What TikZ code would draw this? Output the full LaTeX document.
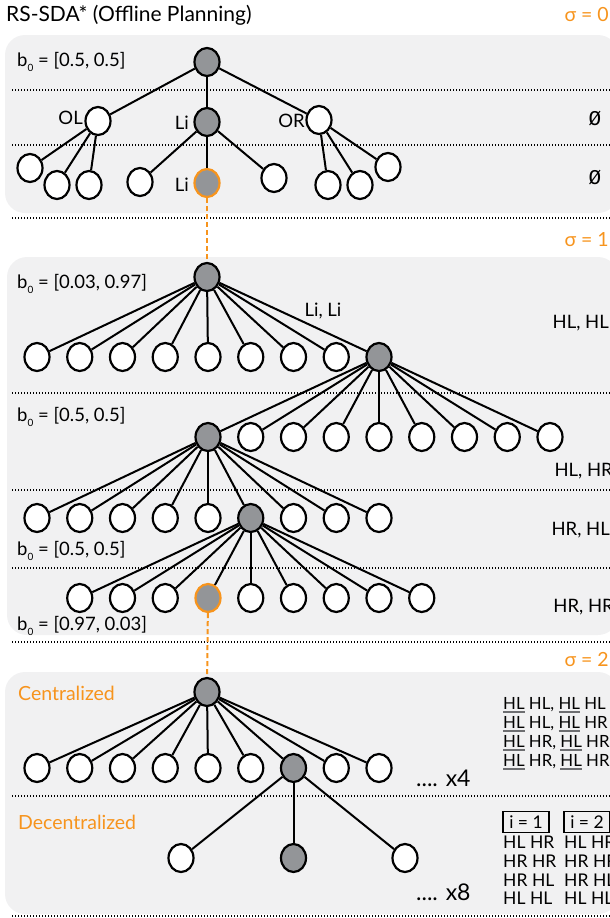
\documentclass[tikz,border=0pt]{standalone}
\usepackage{fontspec}
\setmainfont{Lato}
\newfontfamily\monof{Liberation Mono}
\usetikzlibrary{shapes.geometric}
\definecolor{boxgray}{HTML}{F1F1F2}
\definecolor{nodegray}{HTML}{939598}
\definecolor{orng}{HTML}{F7941D}
\definecolor{ulgray}{HTML}{6D6E71}
\newcommand\bz{b\raisebox{-4.5pt}{\fontsize{10}{10}\selectfont 0}}
\newcommand\uhl{\setbox0\hbox{HL}\rlap{\color{ulgray}\rule[-3.5pt]{\wd0}{1.8pt}}\box0}
\tikzset{
  nd/.style={ellipse, draw=black, line width=2.2pt, inner sep=0pt, minimum width=25pt, minimum height=28pt, fill=white},
  gn/.style={nd, fill=nodegray},
  on/.style={nd, fill=nodegray, draw=orng},
  edge/.style={line width=2pt},
  dotl/.style={line width=1.4pt, dash pattern=on 1.4pt off 1.6pt},
  odash/.style={draw=orng, line width=2pt, dash pattern=on 5pt off 3pt},
  txt/.style={font=\fontsize{18.5}{21}\selectfont, inner sep=0pt},
  stxt/.style={font=\fontsize{17.5}{20}\selectfont, inner sep=0pt},
  ctxt/.style={font=\fontsize{16.8}{20}\selectfont, inner sep=0pt},
  otxt/.style={font=\fontsize{19.5}{22}\selectfont, inner sep=0pt, text=orng},
  big/.style={font=\fontsize{23}{26}\selectfont, inner sep=0pt},
  ibox/.style={stxt, draw=black, line width=1.8pt, minimum width=46pt, minimum height=21pt, inner sep=1pt},
  mono/.style={font=\monof\fontsize{21}{24}\selectfont, inner sep=0pt}
}
\begin{document}
\begin{tikzpicture}[x=1pt, y=-1pt]
\useasboundingbox (0,0) rectangle (610,918);
% background boxes
\fill[boxgray, rounded corners=20pt] (5,35) rectangle (618,213);
\fill[boxgray, rounded corners=20pt] (7,257) rectangle (618,635);
\fill[boxgray, rounded corners=20pt] (5,672) rectangle (618,914);
% dotted separators
\foreach \yy in {90,145,218,393,490,568,642,796,916}
  \draw[dotl] (12,\yy) -- (612,\yy);

% titles
\node[font=\fontsize{21}{24}\selectfont, inner sep=0pt, anchor=west] (title) at (6,15) {RS-SDA* (Offline Planning)};
\node[otxt, anchor=east] (sig0) at (609,15) {σ = 0};
\node[otxt, anchor=east] (sig1) at (609,240) {σ = 1};
\node[otxt, anchor=east] (sig2) at (609,659) {σ = 2};

% ---------- section sigma = 0 ----------
\node[gn] (r0) at (207,62) {};
\node[nd] (a1) at (98,121) {};
\node[gn] (a2) at (207,122) {};
\node[nd] (a3) at (319,120) {};
\node[nd] (b1) at (30,168) {};
\node[nd] (b2) at (57,185) {};
\node[nd] (b3) at (89,185) {};
\node[nd] (b4) at (140,182) {};
\node[on] (b5) at (207,183) {};
\node[nd] (b6) at (274,178) {};
\node[nd] (b7) at (328,185) {};
\node[nd] (b8) at (360,185) {};
\node[nd] (b9) at (388,167) {};
\foreach \t in {a1,a2,a3} \draw[edge] (r0) -- (\t);
\foreach \t in {b1,b2,b3} \draw[edge] (a1) -- (\t);
\foreach \t in {b4,b5,b6} \draw[edge] (a2) -- (\t);
\foreach \t in {b7,b8,b9} \draw[edge] (a3) -- (\t);
\node[txt, anchor=west] (bA) at (17,62) {\bz\ = [0.5, 0.5]};
\node[txt, anchor=east] (lOL) at (83,118) {OL};
\node[txt, anchor=east] (lLi1) at (189,123) {Li};
\node[txt, anchor=east] (lOR) at (305,121) {OR};
\node[txt, anchor=east] (lLi2) at (189,185) {Li};
\node[mono] (e1) at (595,119) {Ø};
\node[mono] (e2) at (595,178) {Ø};

% ---------- section sigma = 1 ----------
\node[gn] (r1) at (207,277) {};
\foreach \i/\fc in {0/white,1/white,2/white,3/white,4/white,5/white,6/white,7/white,8/nodegray}
  \node[nd, fill=\fc] (s1n\i) at ({37+42.75*\i},357) {};
\foreach \i/\fc in {0/nodegray,1/white,2/white,3/white,4/white,5/white,6/white,7/white,8/white}
  \node[nd, fill=\fc] (s2n\i) at ({208+42.75*\i},437) {};
\foreach \i/\fc in {0/white,1/white,2/white,3/white,4/white,5/nodegray,6/white,7/white,8/white}
  \node[nd, fill=\fc] (s3n\i) at ({37+42.75*\i},518) {};
\foreach \i/\fc/\dc in {0/white/black,1/white/black,2/white/black,3/nodegray/orng,4/white/black,5/white/black,6/white/black,7/white/black,8/white/black}
  \node[nd, fill=\fc, draw=\dc] (s4n\i) at ({79.75+42.75*\i},598) {};
\foreach \i in {0,...,8} {
  \draw[edge] (r1) -- (s1n\i);
  \draw[edge] (s1n8) -- (s2n\i);
  \draw[edge] (s2n0) -- (s3n\i);
  \draw[edge] (s3n5) -- (s4n\i);
}
\node[txt, anchor=west] (bB) at (17,284) {\bz\ = [0.03, 0.97]};
\node[txt, anchor=west] (bC) at (17,417) {\bz\ = [0.5, 0.5]};
\node[txt, anchor=west] (bD) at (17,551) {\bz\ = [0.5, 0.5]};
\node[txt, anchor=west] (bE) at (17,626) {\bz\ = [0.97, 0.03]};
\node[txt] (lLiLi) at (323,311) {Li, Li};
\node[txt, anchor=east] (h1) at (609,323) {HL, HL};
\node[txt, anchor=east] (h2) at (613,471) {HL, HR};
\node[txt, anchor=east] (h3) at (610,530) {HR, HL};
\node[txt, anchor=east] (h4) at (614,607) {HR, HR};

% connectors between sections
\draw[odash] (b5) -- (r1);

% ---------- section sigma = 2 ----------
\node[gn] (r2) at (207,692) {};
\foreach \i/\fc in {0/white,1/white,2/white,3/white,4/white,5/white,6/nodegray,7/white,8/white}
  \node[nd, fill=\fc] (s5n\i) at ({37+42.75*\i},768) {};
\node[nd] (s6n0) at (181,858) {};
\node[gn] (s6n1) at (293.5,858) {};
\node[nd] (s6n2) at (405,858) {};
\foreach \i in {0,...,8} \draw[edge] (r2) -- (s5n\i);
\foreach \i in {0,1,2} \draw[edge] (s5n6) -- (s6n\i);
\draw[odash] (s4n3) -- (r2);

\node[otxt, anchor=west] (cen) at (18,693) {Centralized};
\node[otxt, anchor=west] (dec) at (18,822) {Decentralized};
\node[big, anchor=west] (x4) at (416,778) {.... x4};
\node[big, anchor=west] (x8) at (416,892) {.... x8};

\node[ctxt, anchor=west] (c1) at (503,705) {\uhl\ HL, \uhl\ HL};
\node[ctxt, anchor=west] (c2) at (503,724) {\uhl\ HL, \uhl\ HR};
\node[ctxt, anchor=west] (c3) at (503,743) {\uhl\ HR, \uhl\ HR};
\node[ctxt, anchor=west] (c4) at (503,762) {\uhl\ HR, \uhl\ HR};

\node[ibox] (i1) at (526,822) {i = 1};
\node[ibox] (i2) at (587,822) {i = 2};
\node[stxt, anchor=west] (d11) at (503,842) {HL HR};
\node[stxt, anchor=west] (d12) at (503,861) {HR HR};
\node[stxt, anchor=west] (d13) at (503,880) {HR HL};
\node[stxt, anchor=west] (d14) at (503,898) {HL HL};
\node[stxt, anchor=west] (d21) at (564,842) {HL HR};
\node[stxt, anchor=west] (d22) at (564,861) {HR HR};
\node[stxt, anchor=west] (d23) at (564,880) {HR HL};
\node[stxt, anchor=west] (d24) at (564,898) {HL HL};
\end{tikzpicture}
\end{document}
